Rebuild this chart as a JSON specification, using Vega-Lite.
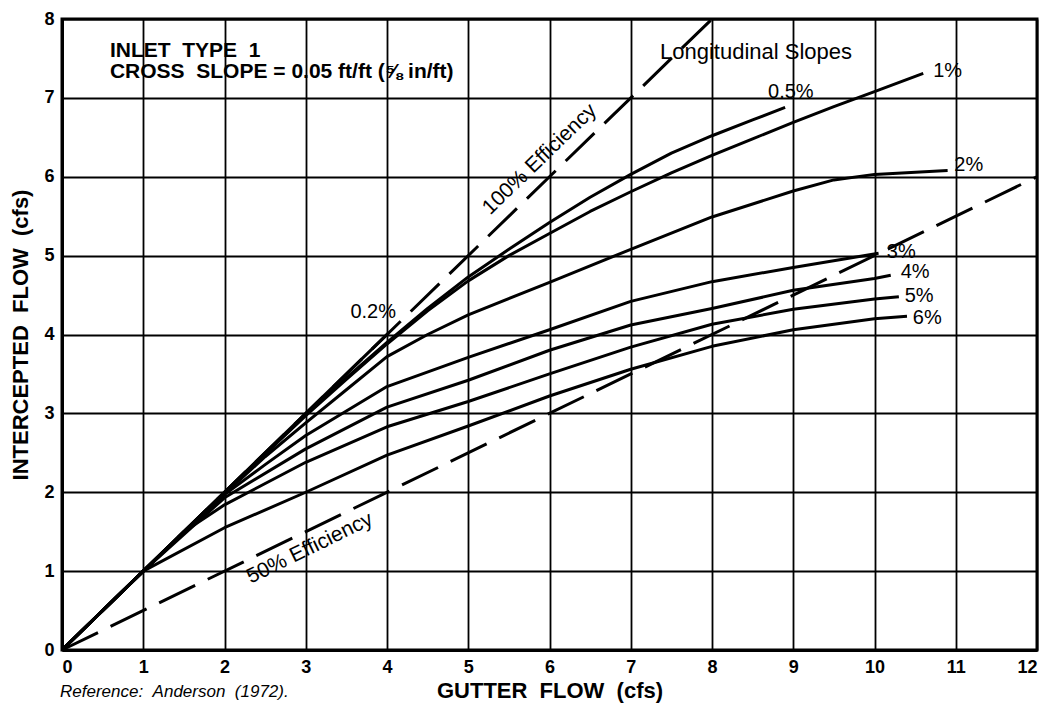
{
  "$schema": "https://vega.github.io/schema/vega-lite/v6.json",
  "width": 975,
  "height": 631,
  "autosize": "none",
  "padding": {"left": 62, "top": 19, "right": 15, "bottom": 56},
  "background": "white",
  "config": {
    "view": {"stroke": "black", "strokeWidth": 3},
    "font": "Liberation Sans",
    "axis": {
      "grid": true,
      "gridColor": "black",
      "gridWidth": 1.8,
      "gridOpacity": 1,
      "domain": true,
      "domainColor": "black",
      "domainWidth": 3,
      "ticks": false,
      "labelFont": "Liberation Sans",
      "labelFontWeight": "bold",
      "labelFontSize": 18,
      "labelColor": "black",
      "labelPadding": 8,
      "titleFont": "Liberation Sans",
      "titleFontWeight": "bold",
      "titleFontSize": 22,
      "titleColor": "black"
    }
  },
  "datasets": {
    "curves": [
      {"slope": "0.2%", "x": 0, "y": 0}, {"slope": "0.2%", "x": 1, "y": 1}, {"slope": "0.2%", "x": 2, "y": 2}, {"slope": "0.2%", "x": 3, "y": 3}, {"slope": "0.2%", "x": 4.02, "y": 4.02},
      {"slope": "0.5%", "x": 0, "y": 0}, {"slope": "0.5%", "x": 1, "y": 1}, {"slope": "0.5%", "x": 2, "y": 2}, {"slope": "0.5%", "x": 3, "y": 2.98}, {"slope": "0.5%", "x": 3.5, "y": 3.45}, {"slope": "0.5%", "x": 4, "y": 3.9}, {"slope": "0.5%", "x": 4.5, "y": 4.33}, {"slope": "0.5%", "x": 5, "y": 4.73}, {"slope": "0.5%", "x": 5.5, "y": 5.08}, {"slope": "0.5%", "x": 6, "y": 5.42}, {"slope": "0.5%", "x": 6.5, "y": 5.74}, {"slope": "0.5%", "x": 7, "y": 6.03}, {"slope": "0.5%", "x": 7.5, "y": 6.3}, {"slope": "0.5%", "x": 8, "y": 6.52}, {"slope": "0.5%", "x": 8.5, "y": 6.72}, {"slope": "0.5%", "x": 8.9, "y": 6.88},
      {"slope": "1%", "x": 0, "y": 0}, {"slope": "1%", "x": 1, "y": 1}, {"slope": "1%", "x": 2, "y": 2}, {"slope": "1%", "x": 3, "y": 2.97}, {"slope": "1%", "x": 3.5, "y": 3.43}, {"slope": "1%", "x": 4, "y": 3.88}, {"slope": "1%", "x": 4.5, "y": 4.3}, {"slope": "1%", "x": 5, "y": 4.68}, {"slope": "1%", "x": 5.5, "y": 5.0}, {"slope": "1%", "x": 6, "y": 5.28}, {"slope": "1%", "x": 6.5, "y": 5.56}, {"slope": "1%", "x": 7, "y": 5.81}, {"slope": "1%", "x": 7.5, "y": 6.05}, {"slope": "1%", "x": 8, "y": 6.27}, {"slope": "1%", "x": 8.5, "y": 6.48}, {"slope": "1%", "x": 9, "y": 6.69}, {"slope": "1%", "x": 9.5, "y": 6.89}, {"slope": "1%", "x": 10, "y": 7.08}, {"slope": "1%", "x": 10.6, "y": 7.31},
      {"slope": "2%", "x": 0, "y": 0}, {"slope": "2%", "x": 1, "y": 1}, {"slope": "2%", "x": 2, "y": 1.98}, {"slope": "2%", "x": 2.5, "y": 2.45}, {"slope": "2%", "x": 3, "y": 2.88}, {"slope": "2%", "x": 3.5, "y": 3.3}, {"slope": "2%", "x": 4, "y": 3.72}, {"slope": "2%", "x": 4.5, "y": 4.0}, {"slope": "2%", "x": 5, "y": 4.25}, {"slope": "2%", "x": 6, "y": 4.66}, {"slope": "2%", "x": 7, "y": 5.08}, {"slope": "2%", "x": 8, "y": 5.49}, {"slope": "2%", "x": 9, "y": 5.82}, {"slope": "2%", "x": 9.5, "y": 5.96}, {"slope": "2%", "x": 10, "y": 6.03}, {"slope": "2%", "x": 10.9, "y": 6.08},
      {"slope": "3%", "x": 0, "y": 0}, {"slope": "3%", "x": 1, "y": 1}, {"slope": "3%", "x": 2, "y": 1.97}, {"slope": "3%", "x": 2.5, "y": 2.35}, {"slope": "3%", "x": 3, "y": 2.72}, {"slope": "3%", "x": 4, "y": 3.34}, {"slope": "3%", "x": 5, "y": 3.71}, {"slope": "3%", "x": 6, "y": 4.06}, {"slope": "3%", "x": 7, "y": 4.42}, {"slope": "3%", "x": 8, "y": 4.67}, {"slope": "3%", "x": 9, "y": 4.85}, {"slope": "3%", "x": 10.05, "y": 5.03},
      {"slope": "4%", "x": 0, "y": 0}, {"slope": "4%", "x": 1, "y": 1}, {"slope": "4%", "x": 2, "y": 1.93}, {"slope": "4%", "x": 3, "y": 2.55}, {"slope": "4%", "x": 4, "y": 3.08}, {"slope": "4%", "x": 5, "y": 3.42}, {"slope": "4%", "x": 6, "y": 3.8}, {"slope": "4%", "x": 7, "y": 4.12}, {"slope": "4%", "x": 8, "y": 4.33}, {"slope": "4%", "x": 9, "y": 4.56}, {"slope": "4%", "x": 10, "y": 4.71}, {"slope": "4%", "x": 10.2, "y": 4.75},
      {"slope": "5%", "x": 0, "y": 0}, {"slope": "5%", "x": 1, "y": 1}, {"slope": "5%", "x": 1.5, "y": 1.5}, {"slope": "5%", "x": 2, "y": 1.84}, {"slope": "5%", "x": 3, "y": 2.38}, {"slope": "5%", "x": 4, "y": 2.83}, {"slope": "5%", "x": 5, "y": 3.15}, {"slope": "5%", "x": 6, "y": 3.5}, {"slope": "5%", "x": 7, "y": 3.84}, {"slope": "5%", "x": 8, "y": 4.13}, {"slope": "5%", "x": 9, "y": 4.32}, {"slope": "5%", "x": 10, "y": 4.45}, {"slope": "5%", "x": 10.3, "y": 4.48},
      {"slope": "6%", "x": 0, "y": 0}, {"slope": "6%", "x": 1, "y": 1}, {"slope": "6%", "x": 2, "y": 1.55}, {"slope": "6%", "x": 3, "y": 2.0}, {"slope": "6%", "x": 4, "y": 2.47}, {"slope": "6%", "x": 5, "y": 2.84}, {"slope": "6%", "x": 6, "y": 3.22}, {"slope": "6%", "x": 7, "y": 3.56}, {"slope": "6%", "x": 8, "y": 3.85}, {"slope": "6%", "x": 9, "y": 4.06}, {"slope": "6%", "x": 10, "y": 4.2}, {"slope": "6%", "x": 10.4, "y": 4.23}
    ],
    "efficiency": [
      {"line": "100% Efficiency", "x": 0, "y": 0}, {"line": "100% Efficiency", "x": 8, "y": 8},
      {"line": "50% Efficiency", "x": 0, "y": 0}, {"line": "50% Efficiency", "x": 12, "y": 6}
    ],
    "slopeLabels": [
      {"label": "0.2%", "x": 3.83, "y": 4.29},
      {"label": "0.5%", "x": 8.97, "y": 7.07},
      {"label": "1%", "x": 10.9, "y": 7.34},
      {"label": "2%", "x": 11.16, "y": 6.15},
      {"label": "3%", "x": 10.33, "y": 5.04},
      {"label": "4%", "x": 10.5, "y": 4.79},
      {"label": "5%", "x": 10.55, "y": 4.49},
      {"label": "6%", "x": 10.65, "y": 4.21}
    ],
    "header": [
      {"label": "INLET\u00a0\u00a0TYPE\u00a0\u00a01", "x": 0.59, "y": 7.52},
      {"label": "CROSS\u00a0\u00a0SLOPE = 0.05 ft/ft (⅝ in/ft)", "x": 0.59, "y": 7.25}
    ],
    "longitudinal": [
      {"label": "Longitudinal Slopes", "x": 7.36, "y": 7.49}
    ],
    "eff100": [
      {"label": "100% Efficiency", "x": 5.88, "y": 6.22}
    ],
    "eff50": [
      {"label": "50% Efficiency", "x": 3.05, "y": 1.29}
    ],
    "source": [
      {"label": "Reference:\u00a0\u00a0Anderson\u00a0\u00a0(1972).", "x": 0, "y": -0.53}
    ]
  },
  "encoding": {
    "x": {"field": "x", "type": "quantitative", "scale": {"domain": [0, 12], "nice": false, "zero": false},
          "axis": {"values": [0,1,2,3,4,5,6,7,8,9,10,11,12], "title": "GUTTER\u00a0\u00a0FLOW\u00a0\u00a0(cfs)", "titlePadding": 4}},
    "y": {"field": "y", "type": "quantitative", "scale": {"domain": [0, 8], "nice": false, "zero": false},
          "axis": {"values": [0,1,2,3,4,5,6,7,8], "title": "INTERCEPTED\u00a0\u00a0FLOW\u00a0\u00a0(cfs)", "titlePadding": 11}}
  },
  "layer": [
    {
      "data": {"name": "curves"},
      "mark": {"type": "line", "color": "black", "strokeWidth": 3, "strokeJoin": "round"},
      "encoding": {"detail": {"field": "slope"}}
    },
    {
      "data": {"name": "efficiency"},
      "mark": {"type": "line", "color": "black", "strokeWidth": 3, "strokeDash": [40, 14]},
      "encoding": {"detail": {"field": "line"}}
    },
    {
      "data": {"name": "slopeLabels"},
      "mark": {"type": "text", "fontSize": 20, "align": "center", "baseline": "middle", "color": "black"},
      "encoding": {"text": {"field": "label"}}
    },
    {
      "data": {"name": "header"},
      "mark": {"type": "text", "fontSize": 21, "fontWeight": "bold", "align": "left", "baseline": "alphabetic", "color": "black"},
      "encoding": {"text": {"field": "label"}}
    },
    {
      "data": {"name": "longitudinal"},
      "mark": {"type": "text", "fontSize": 22, "align": "left", "baseline": "alphabetic", "color": "black"},
      "encoding": {"text": {"field": "label"}}
    },
    {
      "data": {"name": "eff100"},
      "mark": {"type": "text", "fontSize": 21, "align": "center", "baseline": "middle", "angle": -44, "color": "black"},
      "encoding": {"text": {"field": "label"}}
    },
    {
      "data": {"name": "eff50"},
      "mark": {"type": "text", "fontSize": 21, "align": "center", "baseline": "middle", "angle": -26, "color": "black"},
      "encoding": {"text": {"field": "label"}}
    },
    {
      "data": {"name": "source"},
      "mark": {"type": "text", "fontSize": 17, "fontStyle": "italic", "align": "left", "baseline": "middle", "dx": -2, "color": "black"},
      "encoding": {"text": {"field": "label"}}
    }
  ]
}
